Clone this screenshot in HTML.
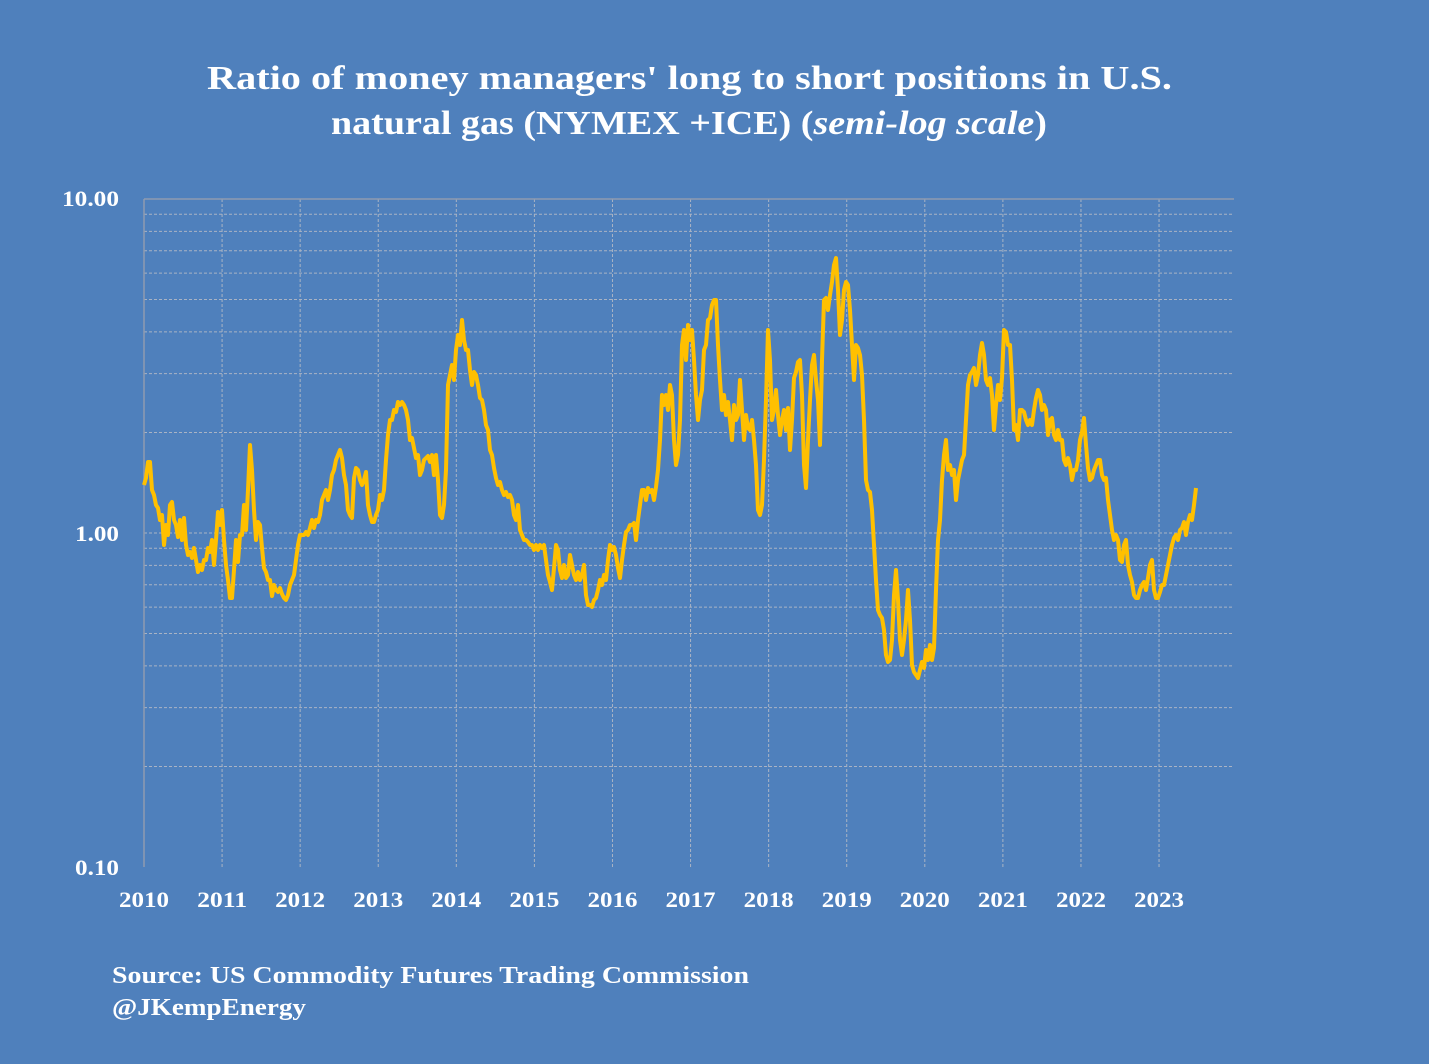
<!DOCTYPE html>
<html><head><meta charset="utf-8"><style>
html,body{margin:0;padding:0;background:#4f80bc;}
svg{display:block}
text{font-family:"Liberation Serif",serif;fill:#fff;font-weight:bold}
</style></head><body>
<svg width="1429" height="1064" xmlns="http://www.w3.org/2000/svg">
<rect width="1429" height="1064" fill="#4f80bc"/>
<text x="207" y="89" font-size="34" textLength="965" lengthAdjust="spacingAndGlyphs">Ratio of  money managers' long to short positions in U.S.</text>
<text x="331" y="134" font-size="34" textLength="716" lengthAdjust="spacingAndGlyphs">natural gas  (NYMEX +ICE) (<tspan font-style="italic">semi-log scale</tspan>)</text>
<g id="grid" stroke="#a9b3c4" stroke-width="1" stroke-dasharray="3,2" fill="none"></g>
<line x1="144" y1="199" x2="1234" y2="199" stroke="#8f9bb0" stroke-width="1.5"/>
<line x1="144" y1="199" x2="144" y2="867" stroke="#8f9bb0" stroke-width="1.5"/>
<g font-size="22">
<text x="62" y="206" textLength="57" lengthAdjust="spacingAndGlyphs">10.00</text><text x="75" y="541" textLength="44" lengthAdjust="spacingAndGlyphs">1.00</text><text x="75" y="875" textLength="44" lengthAdjust="spacingAndGlyphs">0.10</text>
</g>
<g id="xl" font-size="22" text-anchor="middle"></g>
<polyline id="ln" fill="none" stroke="#ffc000" stroke-width="4" stroke-linejoin="round" points=""/>
<text x="112" y="983" font-size="24" textLength="637" lengthAdjust="spacingAndGlyphs">Source: US Commodity Futures Trading Commission</text>
<text x="112" y="1015" font-size="24" textLength="194" lengthAdjust="spacingAndGlyphs">@JKempEnergy</text>
</svg>
<script>
var ns="http://www.w3.org/2000/svg",g=document.getElementById('grid');
function L(x1,y1,x2,y2){var l=document.createElementNS(ns,'line');l.setAttribute('x1',x1);l.setAttribute('y1',y1);l.setAttribute('x2',x2);l.setAttribute('y2',y2);g.appendChild(l);}
for(var d=0;d<2;d++)for(var k=1;k<=9;k++){var y=867-334*d-334*Math.log10(k);if(k==1&&d==0)continue;L(144,y,1234,y);}
var xl=document.getElementById('xl');
for(var i=0;i<14;i++){var x=144+i*78.08;if(i>0)L(x,199,x,867);var t=document.createElementNS(ns,'text');t.setAttribute('x',x);t.setAttribute('y',907);t.setAttribute('textLength',50);t.setAttribute('lengthAdjust','spacingAndGlyphs');t.textContent=2010+i;xl.appendChild(t);}
var p=[485,478,462,462,490,495,505,508,520,515,545,525,535,505,502,520,525,537,520,540,518,545,555,552,558,548,560,572,565,570,560,560,548,552,540,565,540,512,525,510,540,565,580,598,598,570,540,562,535,535,505,530,490,445,470,510,540,522,525,548,568,572,580,580,596,585,590,592,588,594,598,600,595,585,580,575,560,545,535,535,535,532,535,528,520,528,520,522,515,500,495,490,500,490,475,470,460,455,450,458,475,485,510,515,518,478,468,470,480,485,480,472,505,515,522,522,515,510,495,500,490,460,435,420,420,410,412,402,405,402,405,410,420,440,438,448,458,455,475,470,460,458,456,462,455,475,455,480,515,518,505,470,385,375,365,380,350,335,345,320,340,350,350,370,385,372,375,385,398,400,410,425,430,450,455,468,478,485,482,490,495,492,497,495,500,515,520,505,530,535,540,540,542,545,545,550,545,550,545,548,545,560,575,582,590,568,545,550,570,578,565,578,575,555,565,575,580,572,580,575,565,595,605,605,607,600,598,590,580,585,575,580,560,545,550,547,555,568,578,560,545,532,530,525,525,523,540,520,505,490,490,500,488,492,490,500,487,470,440,395,405,395,410,385,395,440,465,455,420,345,330,360,325,340,330,360,395,420,400,390,350,345,320,318,305,300,300,345,380,410,395,415,402,420,440,405,420,415,380,410,440,415,428,430,420,440,465,510,515,505,460,400,330,360,420,410,390,415,435,420,410,430,408,450,420,378,372,362,360,395,465,488,440,400,365,355,380,400,445,360,300,298,310,295,282,265,258,290,335,320,290,282,285,310,345,380,345,348,355,375,420,480,490,492,510,545,580,610,615,618,630,655,662,660,640,595,570,600,640,655,640,620,590,620,665,672,675,678,670,662,668,650,660,645,660,648,590,540,520,480,455,440,470,465,475,470,500,480,470,460,455,420,385,375,372,368,385,375,355,343,355,380,385,378,395,430,405,385,400,378,330,332,345,345,380,430,425,440,410,410,412,420,425,420,425,410,398,390,395,410,405,410,435,420,418,435,440,430,440,440,460,465,458,465,480,470,470,460,440,432,418,445,468,480,478,470,465,460,460,475,480,478,500,515,530,540,535,540,560,562,545,540,565,575,582,595,598,598,590,585,582,590,578,565,560,590,598,598,592,585,585,575,565,555,545,538,535,540,530,528,522,535,522,515,520,505,488];
var s=[];for(var i=0;i<p.length;i++)s.push((144+i*2)+','+p[i]);
document.getElementById('ln').setAttribute('points',s.join(' '));
</script>
</body></html>
